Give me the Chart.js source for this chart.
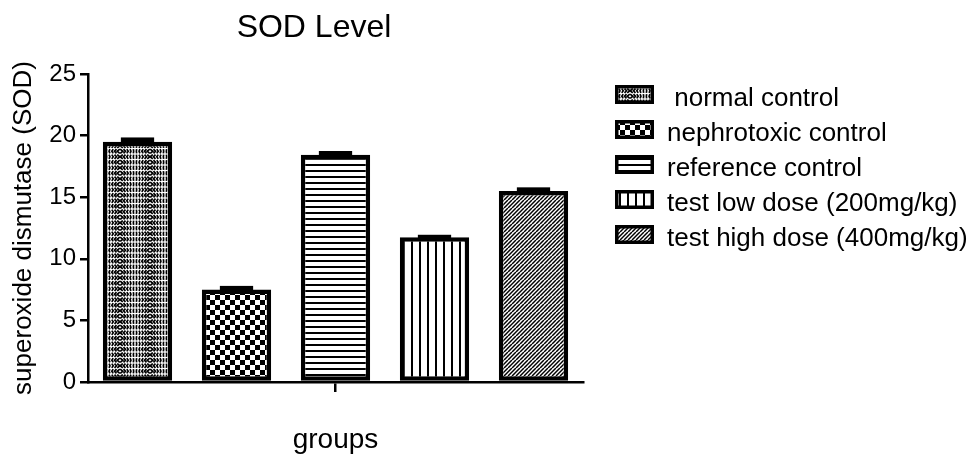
<!DOCTYPE html>
<html>
<head>
<meta charset="utf-8">
<script src="https://cdn.jsdelivr.net/npm/chart.js@4"></script>
<style>
  html, body { margin: 0; padding: 0; background: #fff; }
  canvas { display: block; }
</style>
</head>
<body>
<canvas id="c" width="978" height="458"></canvas>
<script>
// SOD level per treatment group (mean and SEM)
const chartTitle = 'SOD Level';
const groupNames = [' normal control', 'nephrotoxic control', 'reference control', 'test low dose (200mg/kg)', 'test high dose (400mg/kg)'];
const sodMeans = [19.5, 7.5, 18.45, 11.75, 15.5];
const sodErrors = [0.35, 0.3, 0.3, 0.2, 0.3];
const yTickValues = [0, 5, 10, 15, 20, 25];
const categoryLabels = [''];
const xAxisTitle = 'groups';
const yAxisTitle = 'superoxide dismutase (SOD)';

const FONT = "'Liberation Sans', Arial, Helvetica, sans-serif";
const canvas = document.getElementById('c');
const mainCtx = canvas.getContext('2d');

// Monochrome fill patterns, one per group
function makePattern(w, h, paint) {
  const c = document.createElement('canvas');
  c.width = w; c.height = h;
  const g = c.getContext('2d');
  g.fillStyle = '#fff';
  g.fillRect(0, 0, w, h);
  g.fillStyle = '#000';
  g.strokeStyle = '#000';
  paint(g, w, h);
  return mainCtx.createPattern(c, 'repeat');
}

const patterns = [
  // wavy chevron rows
  makePattern(30, 11, (g) => {
    g.lineWidth = 1.7;
    for (let r = 0; r < 2; r++) {
      const y0 = r * 5.5;
      const dir = r === 0 ? 1 : -1;
      for (let i = 0; i < 10; i++) {
        const x = 1.5 + i * 3;
        const d = 1.3 * ((i - 4.5) / 4.5) * dir;
        g.beginPath();
        g.moveTo(x - d, y0 + 0.6);
        g.lineTo(x + d, y0 + 2.75);
        g.lineTo(x - d, y0 + 4.9);
        g.stroke();
      }
    }
  }),
  // checkerboard
  makePattern(10, 10, (g) => {
    g.fillRect(0, 0, 5, 5);
    g.fillRect(5, 5, 5, 5);
  }),
  // horizontal lines
  makePattern(6, 6, (g) => {
    g.fillRect(0, 2, 6, 2);
  }),
  // vertical lines
  makePattern(8, 8, (g) => {
    g.fillRect(3, 0, 2, 8);
  }),
  // forward diagonal hatching
  makePattern(8, 8, (g) => {
    g.lineWidth = 1.5;
    for (let k = -8; k <= 16; k += 4) {
      g.beginPath();
      g.moveTo(k, 8);
      g.lineTo(k + 8, 0);
      g.stroke();
    }
  })
];

// Error bar caps drawn on top of each bar
const errorCaps = {
  id: 'errorCaps',
  afterDatasetsDraw(chart) {
    const ctx = chart.ctx;
    const y = chart.scales.y;
    ctx.save();
    ctx.fillStyle = '#000';
    chart.data.datasets.forEach((ds, i) => {
      const bar = chart.getDatasetMeta(i).data[0];
      const w = bar.width * 0.48;
      const top = y.getPixelForValue(sodMeans[i] + sodErrors[i]);
      const base = y.getPixelForValue(sodMeans[i]);
      ctx.fillRect(bar.x - w / 2, top, w, base - top + 2);
    });
    ctx.restore();
  }
};

// Chart title and pattern legend
const annotations = {
  id: 'annotations',
  afterDraw(chart) {
    const ctx = chart.ctx;
    ctx.save();
    ctx.fillStyle = '#000';
    ctx.textAlign = 'center';
    ctx.textBaseline = 'alphabetic';
    ctx.font = '32px ' + FONT;
    ctx.fillText(chartTitle, 314, 37);

    ctx.textAlign = 'left';
    ctx.font = '26px ' + FONT;
    const boxX = 615, boxW = 39, boxH = 19;
    chart.data.datasets.forEach((ds, i) => {
      const baseline = 106 + 35 * i;
      const boxTop = baseline - 11.5 - boxH / 2;
      ctx.fillStyle = '#000';
      ctx.fillRect(boxX, boxTop, boxW, boxH);
      ctx.fillStyle = ds.backgroundColor;
      ctx.fillRect(boxX + 3.5, boxTop + 3.5, boxW - 7, boxH - 7);
      ctx.fillStyle = '#000';
      ctx.fillText(ds.label, 667, baseline);
    });
    ctx.restore();
  }
};

new Chart(canvas, {
  type: 'bar',
  data: {
    labels: categoryLabels,
    datasets: groupNames.map((name, i) => ({
      label: name,
      data: [sodMeans[i]],
      backgroundColor: patterns[i],
      borderColor: '#000',
      borderWidth: 4.5,
      borderSkipped: false,
      categoryPercentage: 1.0,
      barPercentage: 0.7
    }))
  },
  options: {
    responsive: false,
    animation: false,
    devicePixelRatio: 1,
    layout: { padding: { top: 74, right: 395, bottom: 0, left: 0 } },
    plugins: {
      legend: { display: false },
      title: { display: false },
      tooltip: { enabled: false }
    },
    scales: {
      x: {
        offset: true,
        grid: {
          offset: false,
          drawOnChartArea: false,
          color: '#000',
          lineWidth: 2.5,
          tickLength: 10
        },
        border: { color: '#000', width: 2.5 },
        ticks: { font: { family: FONT, size: 12 }, callback: () => '' },
        title: {
          display: true,
          text: xAxisTitle,
          color: '#000',
          font: { family: FONT, size: 28 },
          padding: { top: 4, bottom: 1 }
        },
        afterFit(scale) { scale.height = 76; }
      },
      y: {
        min: yTickValues[0],
        max: yTickValues[yTickValues.length - 1],
        afterBuildTicks(scale) {
          scale.ticks = yTickValues.map(v => ({ value: v }));
        },
        grid: {
          drawOnChartArea: false,
          color: '#000',
          lineWidth: 2.5,
          tickLength: 8
        },
        border: { color: '#000', width: 2.5 },
        ticks: {
          color: '#000',
          padding: 4,
          font: { family: FONT, size: 24 }
        },
        title: {
          display: true,
          text: yAxisTitle,
          color: '#000',
          font: { family: FONT, size: 26 },
          padding: { top: 8, bottom: 4 }
        },
        afterFit(scale) { scale.width = 88; }
      }
    }
  },
  plugins: [errorCaps, annotations]
});
</script>
</body>
</html>
